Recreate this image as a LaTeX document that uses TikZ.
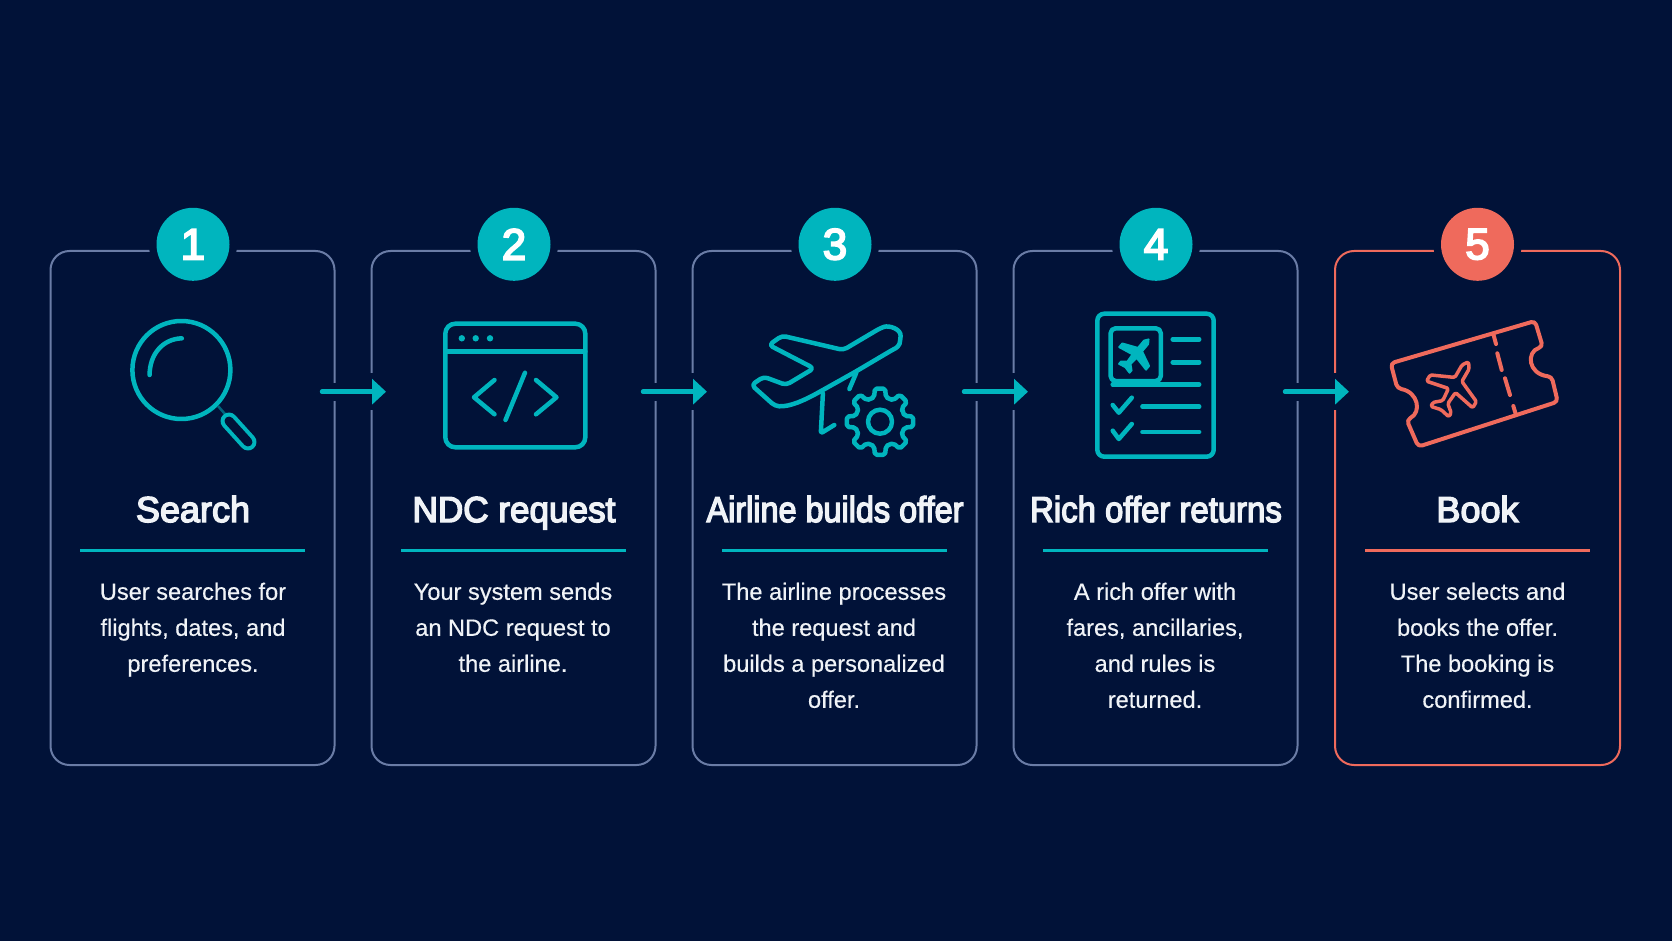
\documentclass[tikz,border=0pt]{standalone}
\usepackage{tikz}
\usepackage{xcolor}
\usepackage{fontspec}
\setmainfont[FakeBold=0.4]{Liberation Sans}
\newfontfamily\titlefont[FakeBold=4]{Liberation Sans}
\usetikzlibrary{arrows.meta}
\definecolor{bgc}{HTML}{011238}
\definecolor{tealc}{HTML}{00B5BE}
\definecolor{redc}{HTML}{EF6A5C}
\definecolor{edgec}{HTML}{6A7CA6}
\definecolor{textc}{HTML}{F0F3F7}
\tikzset{%
  tipA/.tip={Triangle[length=14pt,width=25pt]},
  card/.style={draw=edgec, line width=2pt, rounded corners=19pt, minimum width=284pt, minimum height=514pt, inner sep=0pt, outer sep=0pt},
  redcard/.style={card, draw=redc, minimum width=285pt},
  num/.style={circle, fill=tealc, text=white, minimum size=73pt, inner sep=0pt, preaction={draw=bgc, line width=15pt}, font=\titlefont\fontsize{44}{44}\selectfont},
  rednum/.style={num, fill=redc},
  head/.style={text=textc, inner sep=0pt, anchor=base, font=\titlefont\fontsize{36}{36}\selectfont},
  body/.style={text=textc, inner sep=0pt, align=center, anchor=north, font=\fontsize{23.6}{36}\selectfont},
  rulet/.style={tealc, line width=2.2pt},
  ruler/.style={redc, line width=2.2pt},
  flow/.style={tealc, line width=4.5pt, line cap=round, -tipA, preaction={draw=bgc, line width=18pt, line cap=butt, -{}}},
  icon/.style={tealc, line width=4.5pt, line cap=round, line join=round},
  redicon/.style={redc, line width=4pt, line cap=round, line join=round}
}
\newcommand{\planepath}{(0,-1) -- (.14,-.8) -- (.14,-.3) -- (.92,.05) -- (.92,.3) -- (.14,.14) -- (.1,.6) -- (.36,.82) -- (.36,.98) -- (0,.9) -- (-.36,.98) -- (-.36,.82) -- (-.1,.6) -- (-.14,.14) -- (-.92,.3) -- (-.92,.05) -- (-.14,-.3) -- (-.14,-.8) -- cycle}
\begin{document}
\begin{tikzpicture}[x=1pt,y=-1pt]
\useasboundingbox (0,0) rectangle (1672,941);
\fill[bgc] (0,0) rectangle (1672,941);
% cards
\node[card] (card1) at (192.5,508) {};
\node[card] (card2) at (513.5,508) {};
\node[card] (card3) at (834.5,508) {};
\node[card] (card4) at (1155.5,508) {};
\node[redcard] (card5) at (1477.5,508) {};
\node[num] (num1) at (193,244.3) {1};
\node[num] (num2) at (514,244.3) {2};
\node[num] (num3) at (835,244.3) {3};
\node[num] (num4) at (1156,244.3) {4};
\node[rednum] (num5) at (1477.5,244.3) {5};
% arrows
\fill[bgc] (369,373) rectangle (374,410);
\fill[bgc] (690,373) rectangle (695,410);
\fill[bgc] (1011,373) rectangle (1016,410);
\fill[bgc] (1332,373) rectangle (1337,410);
\coordinate (a1s) at (322,391.7);
\coordinate (a1e) at (386,391.7);
\coordinate (a2s) at (643,391.7);
\coordinate (a2e) at (707,391.7);
\coordinate (a3s) at (964,391.7);
\coordinate (a3e) at (1028,391.7);
\coordinate (a4s) at (1285,391.7);
\coordinate (a4e) at (1349,391.7);
\draw[flow] (a1s) -- (a1e);
\draw[flow] (a2s) -- (a2e);
\draw[flow] (a3s) -- (a3e);
\draw[flow] (a4s) -- (a4e);
% titles
\node[head] (title1) at (193,522) {Search};
\node[head] (title2) at (514,522) {\scalebox{.975}[1]{NDC request}};
\node[head] (title3) at (835,522) {\scalebox{.9}[1]{Airline builds offer}};
\node[head] (title4) at (1156,522) {\scalebox{.914}[1]{Rich offer returns}};
\node[head] (title5) at (1477.5,522) {Book};
\draw[rulet] (80,550.4) -- (305,550.4);
\draw[rulet] (401,550.4) -- (626,550.4);
\draw[rulet] (722,550.4) -- (947,550.4);
\draw[rulet] (1043,550.4) -- (1268,550.4);
\draw[ruler] (1365,550.4) -- (1590,550.4);
% texts
\node[body] (text1) at (193,582.5) {User searches for\\flights, dates, and\\preferences.};
\node[body] (text2) at (513,582.5) {Your system sends\\an NDC request to\\the airline.};
\node[body] (text3) at (834,582.5) {The airline processes\\the request and\\builds a personalized\\offer.};
\node[body] (text4) at (1155,582.5) {A rich offer with\\fares, ancillaries,\\and rules is\\returned.};
\node[body] (text5) at (1477.5,582.5) {User selects and\\books the offer.\\The booking is\\confirmed.};
% search icon
\draw[icon] (181.4,370) circle (49);
\draw[icon] (149.6,375) .. controls (149.6,355) and (162,339) .. (181.8,338.3);
\draw[tealc!50!bgc, line width=2.5pt] (218,406) -- (225,414);
\draw[tealc, line width=17pt, line cap=round] (229,421) -- (248,442);
\draw[bgc, line width=9pt, line cap=round] (229,421) -- (248,442);
% window icon
\draw[icon, rounded corners=10pt] (445.3,323.7) rectangle (585.3,447.3);
\draw[icon] (445.3,351.7) -- (585.3,351.7);
\fill[tealc] (461.8,338.3) circle (3.2);
\fill[tealc] (475.7,338.3) circle (3.2);
\fill[tealc] (490,338.3) circle (3.2);
\draw[icon] (494.5,380) -- (474,397.3) -- (494.5,414.3);
\draw[icon] (536,380) -- (556.5,397.3) -- (536,414.3);
\draw[icon] (525,372.7) -- (505.5,420);
% plane and gear icon
\draw[icon, rounded corners=4pt] (782,335.7) -- (843.3,350) -- (880,328.3) .. controls (889,325) and (901,329) .. (900.4,340) .. controls (899,346) and (896,348) .. (892.2,350) -- (855.5,371.7) -- (822.9,390) .. controls (805,400) and (790,407) .. (775,406) -- (751.5,385) -- (763.7,376.7) -- (786.1,385) -- (813.9,368.3) -- (769,345) -- cycle;
\draw[icon, rounded corners=2pt] (822.9,393.3) -- (820.8,433.3) -- (834.3,425);
\draw[icon] (856.3,372.7) -- (849.4,389);
\begin{scope}[shift={(880,421.7)}]
\draw[icon, rounded corners=2pt] (-22.5:24.5) \foreach \ang in {0,45,...,315} {
  -- (\ang-13:25.5) -- (\ang-9:33.5) -- (\ang+9:33.5) -- (\ang+13:25.5) -- (\ang+22.5:24.5) } -- cycle;
\draw[icon] (0,0) circle (12);
\end{scope}
% document icon
\draw[icon, rounded corners=7pt] (1097.3,313.7) rectangle (1213.7,456.7);
\draw[icon, rounded corners=5pt] (1110.6,328.3) rectangle (1160.8,381);
\begin{scope}[shift={(1136.3,354)}, rotate=-40, scale=19]
\filldraw[tealc, line width=2pt, line join=round] \planepath;
\end{scope}
\draw[icon] (1172.7,339.3) -- (1199.2,339.3);
\draw[icon] (1172.7,362.3) -- (1199.2,362.3);
\draw[icon] (1112.7,384.5) -- (1199.2,384.5);
\draw[icon] (1112.7,405) -- (1118.8,412.7) -- (1131.8,397.7);
\draw[icon] (1142.4,406.7) -- (1199.2,406.7);
\draw[icon] (1112.7,430.7) -- (1118.8,439) -- (1131.8,424);
\draw[icon] (1142.4,432) -- (1199.2,432);
% ticket icon
\draw[redicon, rounded corners=4pt] (1390.7,363.3) -- (1535,321) -- (1542.7,346.7) .. controls (1526,352) and (1528,374) .. (1551.7,376.7) -- (1557.7,401.7) -- (1418.3,446.7) -- (1406.7,420) .. controls (1422,412) and (1418,392) .. (1397.3,388.3) -- cycle;
\draw[redicon] (1493.3,334) -- (1496,344);
\draw[redicon] (1497.3,353.3) -- (1501.7,370);
\draw[redicon] (1505,378.3) -- (1510,395);
\draw[redicon] (1513.3,406) -- (1516,415);
\begin{scope}[shift={(1454,387)}, rotate=-30, scale=29]
\draw[redc, line width=3.5pt, line join=round, rounded corners=1.5pt] \planepath;
\end{scope}
\end{tikzpicture}
\end{document}
